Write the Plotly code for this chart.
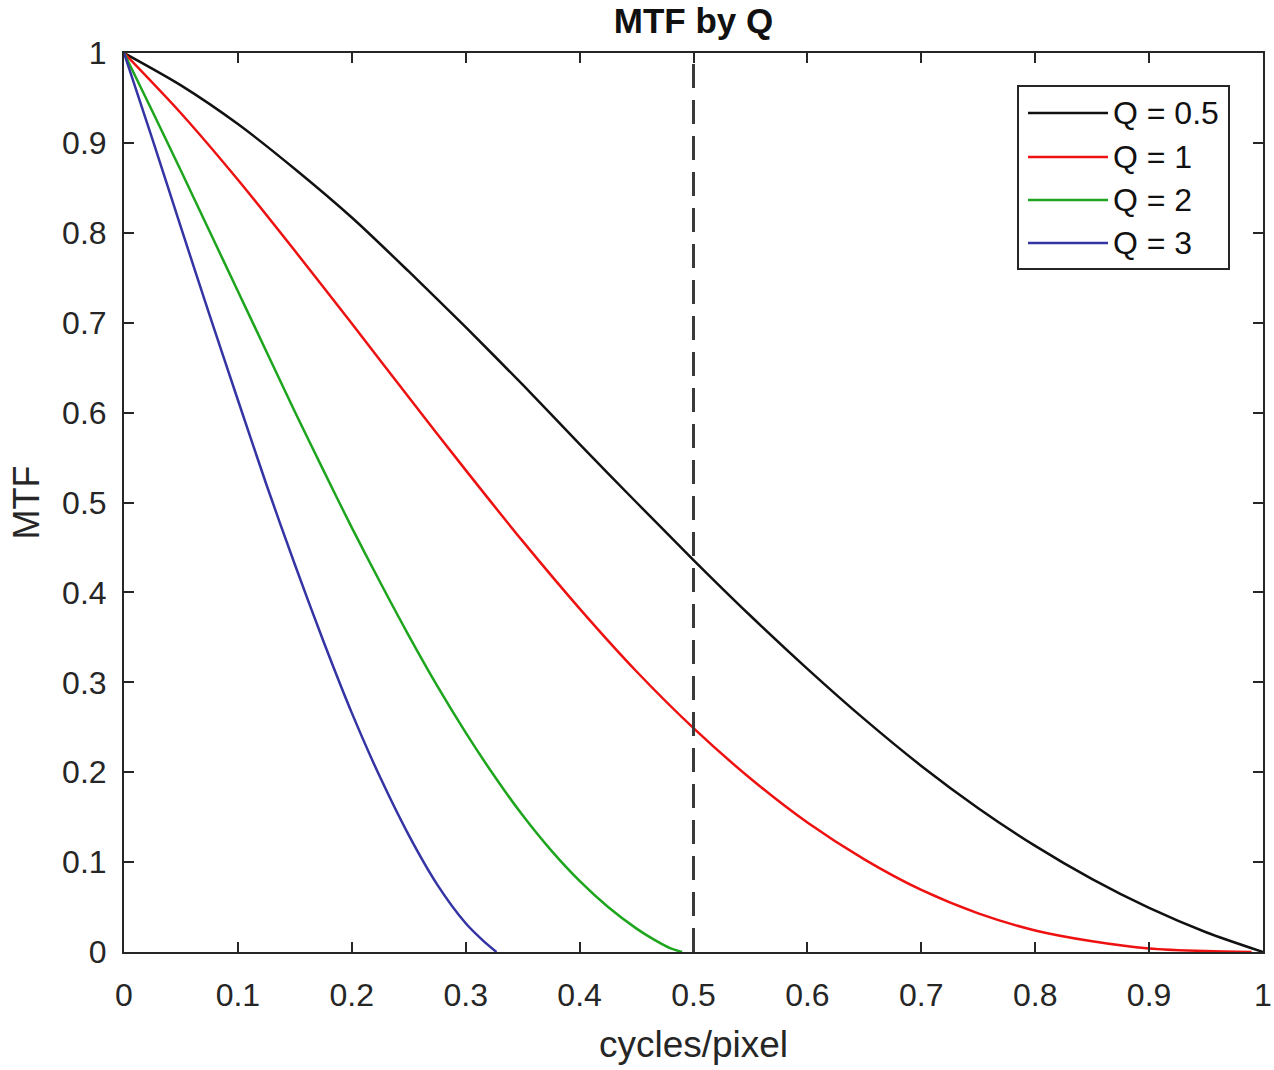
import plotly.graph_objects as go

# ---------------- data ----------------
x_q05 = [0.0, 0.05, 0.10, 0.15, 0.20, 0.25, 0.30, 0.35, 0.40, 0.45, 0.50,
         0.55, 0.60, 0.65, 0.70, 0.75, 0.80, 0.85, 0.90, 0.95, 1.00]
y_q05 = [1.000, 0.964, 0.921, 0.871, 0.817, 0.757, 0.695, 0.631, 0.565, 0.500, 0.436,
         0.374, 0.315, 0.259, 0.207, 0.160, 0.118, 0.081, 0.049, 0.022, 0.000]

x_q1 = [0.0, 0.05, 0.10, 0.15, 0.20, 0.25, 0.30, 0.35, 0.40, 0.45, 0.50,
        0.55, 0.60, 0.65, 0.70, 0.75, 0.80, 0.85, 0.90, 0.95, 0.99]
y_q1 = [1.000, 0.933, 0.859, 0.780, 0.699, 0.617, 0.536, 0.457, 0.382, 0.312, 0.249,
        0.193, 0.144, 0.103, 0.069, 0.043, 0.024, 0.012, 0.004, 0.001, 0.000]

x_q2 = [0.0, 0.025, 0.05, 0.075, 0.10, 0.125, 0.15, 0.175, 0.20, 0.225, 0.25,
        0.275, 0.30, 0.325, 0.35, 0.375, 0.40, 0.425, 0.45, 0.465, 0.48, 0.49]
y_q2 = [1.000, 0.935, 0.869, 0.802, 0.735, 0.668, 0.601, 0.536, 0.472, 0.411, 0.352,
        0.296, 0.244, 0.196, 0.152, 0.113, 0.079, 0.050, 0.026, 0.014, 0.004, 0.000]

x_q3 = [0.0, 0.025, 0.05, 0.075, 0.10, 0.125, 0.15, 0.175, 0.20, 0.225, 0.25,
        0.275, 0.30, 0.315, 0.327]
y_q3 = [1.000, 0.904, 0.806, 0.709, 0.614, 0.520, 0.431, 0.346, 0.266, 0.194, 0.130,
        0.075, 0.032, 0.013, 0.000]

series_names = ["Q = 0.5", "Q = 1", "Q = 2", "Q = 3"]
series_colors = ["#111111", "#ee1111", "#1ea51e", "#3434a4"]

x_ticks = [0, 0.1, 0.2, 0.3, 0.4, 0.5, 0.6, 0.7, 0.8, 0.9, 1]
x_tick_labels = ["0", "0.1", "0.2", "0.3", "0.4", "0.5", "0.6", "0.7", "0.8", "0.9", "1"]
y_ticks = [0, 0.1, 0.2, 0.3, 0.4, 0.5, 0.6, 0.7, 0.8, 0.9, 1]
y_tick_labels = ["0", "0.1", "0.2", "0.3", "0.4", "0.5", "0.6", "0.7", "0.8", "0.9", "1"]

nyquist = 0.5

# ---------------- figure ----------------
FONT = "Liberation Sans, Arial, Helvetica, sans-serif"
TXT = "#262626"

W, H = 1274, 1070
ml, mr, mt, mb = 124, 11, 53, 118
pw, ph = W - ml - mr, H - mt - mb

def px(xpix):
    return (xpix - ml) / pw

def py(ypix):
    return 1 - (ypix - mt) / ph

fig = go.Figure()
all_x = [x_q05, x_q1, x_q2, x_q3]
all_y = [y_q05, y_q1, y_q2, y_q3]
for xs, ys, name, col in zip(all_x, all_y, series_names, series_colors):
    fig.add_trace(go.Scatter(x=xs, y=ys, mode="lines", name=name,
                             line=dict(color=col, width=2.5, shape="spline", smoothing=0.8),
                             showlegend=False, hoverinfo="skip"))

# dashed Nyquist line
fig.add_shape(type="line", xref="x", yref="y", x0=nyquist, x1=nyquist, y0=0, y1=1,
              line=dict(color="#3a3a3a", width=3, dash="24px,12px"))

# custom MATLAB-like legend (paper coordinates)
fig.add_shape(type="rect", xref="paper", yref="paper",
              x0=px(1018), x1=px(1229), y0=py(269), y1=py(86),
              line=dict(color="#262626", width=2), fillcolor="white", layer="above")
legend_rows = [113, 157, 200, 243]
for yy, name, col in zip(legend_rows, series_names, series_colors):
    fig.add_shape(type="line", xref="paper", yref="paper",
                  x0=px(1028), x1=px(1108), y0=py(yy), y1=py(yy),
                  line=dict(color=col, width=2.5), layer="above")
    fig.add_annotation(xref="paper", yref="paper", x=px(1111), y=py(yy),
                       text=name, showarrow=False, xanchor="left", yanchor="middle",
                       font=dict(family=FONT, size=32, color="#111111"))

axis_common = dict(
    showline=True, linecolor="#262626", linewidth=2, mirror="ticks",
    ticks="inside", ticklen=10, tickwidth=2, tickcolor="#262626",
    showgrid=False, zeroline=False, automargin=False,
    tickfont=dict(family=FONT, size=32, color=TXT),
)

fig.update_layout(
    width=W, height=H,
    margin=dict(l=ml, r=mr, t=mt, b=mb, autoexpand=False),
    paper_bgcolor="white", plot_bgcolor="white",
    hovermode=False,
    title=dict(text="<b>MTF by Q</b>", x=(ml + pw / 2) / W, xanchor="center",
               y=1 - 21 / H, yanchor="middle",
               font=dict(family=FONT, size=35, color="#111111")),
    xaxis=dict(range=[0, 1], tickvals=x_ticks, ticktext=x_tick_labels,
               title=dict(text="cycles/pixel", font=dict(family=FONT, size=37, color=TXT),
                          standoff=19),
               ticklabelstandoff=14, **axis_common),
    yaxis=dict(range=[0, 1], tickvals=y_ticks, ticktext=y_tick_labels,
               title=dict(text="MTF", font=dict(family=FONT, size=36, color=TXT),
                          standoff=12),
               ticklabelstandoff=9, **axis_common),
)

fig.write_html("out.html", config={"displayModeBar": False},
               post_script="document.body.style.margin='0';document.body.style.padding='0';")
